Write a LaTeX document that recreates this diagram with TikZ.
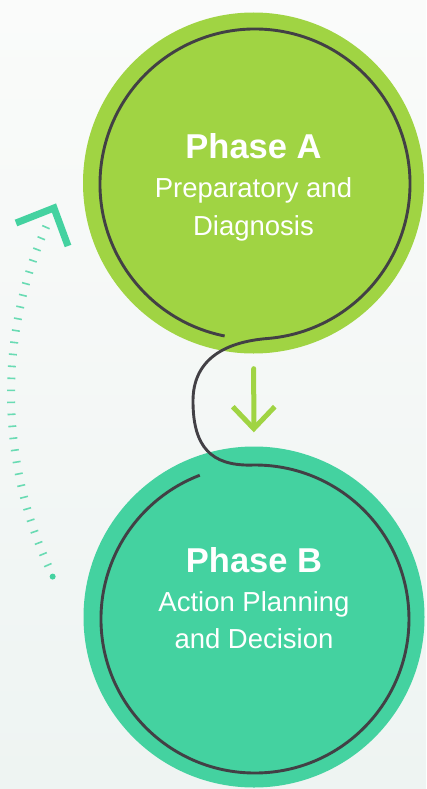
\documentclass[tikz,border=0pt]{standalone}
\usepackage{fontspec}
\setmainfont{Liberation Sans}
\usepackage{xcolor}
\usetikzlibrary{arrows.meta, calc, positioning}
\definecolor{phasegreen}{HTML}{A0D443}
\definecolor{phaseteal}{HTML}{44D2A0}
\definecolor{ringgray}{HTML}{424045}
\definecolor{bgtop}{HTML}{FAFBFA}
\definecolor{bgbottom}{HTML}{EEF4F2}
\tikzset{
    phase/.style={circle, minimum size=341pt, inner sep=0pt, draw=none},
    greenphase/.style={phase, fill=phasegreen},
    tealphase/.style={phase, fill=phaseteal},
    phasetitle/.style={anchor=base, text=white, inner sep=0pt,
        font=\fontsize{34.5}{40}\selectfont\bfseries},
    phasetext/.style={anchor=base, text=white, inner sep=0pt,
        font=\fontsize{27.5}{33}\selectfont},
    ringline/.style={draw=ringgray, line width=2.9pt},
    flowarrow/.style={-{Straight Barb[length=22pt, width=42pt]}, line width=5pt,
        draw=phasegreen, line cap=round},
    cycleticks/.style={draw=phaseteal!80, line width=8pt, dash pattern=on 1.6pt off 10.4pt},
    cyclehead/.style={draw=phaseteal, line width=7pt},
}
\begin{document}
\begin{tikzpicture}[x=1pt, y=-1pt]
    \shade[top color=bgtop, bottom color=bgbottom] (0,0) rectangle (426,789);
    \useasboundingbox (0,0) rectangle (426,789);

    \node[greenphase] (phaseA) at (253.5,183) {};
    \node[tealphase] (phaseB) at (254,617) {};

    \node[phasetitle] (titleA) at ([yshift=25pt]phaseA.center) {Phase A};
    \node[phasetext] (lineA1) at ([yshift=-14pt]phaseA.center) {Preparatory and};
    \node[phasetext] (lineA2) at ([yshift=-52pt]phaseA.center) {Diagnosis};
    \node[phasetitle] (titleB) at ([yshift=45pt]phaseB.center) {Phase B};
    \node[phasetext] (lineB1) at ([yshift=6pt]phaseB.center) {Action Planning};
    \node[phasetext] (lineB2) at ([yshift=-31pt]phaseB.center) {and Decision};

    % one line round both phases
    \coordinate (ringA) at (255,184);
    \coordinate (ringB) at (255,619);
    \draw[ringline] ([shift={(101.3:155)}]ringA)
        arc[start angle=101.3, end angle=445, radius=155]
        .. controls (221,342) and (193,362) .. (193,401)
        .. controls (193,448) and (212,465.1) .. (249.6,465.1)
        arc[start angle=268, end angle=609, radius=154];

    \draw[flowarrow, shorten <=15pt, shorten >=14pt] (phaseA) -- (phaseB);

    % cycle back from B to A
    \coordinate (cyccentre) at (427,394);
    \fill[phaseteal] ([shift={(154:416.5)}]cyccentre) circle[radius=3];
    \draw[cycleticks] ([shift={(155.6:416)}]cyccentre) arc[start angle=155.6, end angle=205, radius=416];
    \draw[cyclehead] (16,223) -- (54,208) -- (68,246);
\end{tikzpicture}
\end{document}
